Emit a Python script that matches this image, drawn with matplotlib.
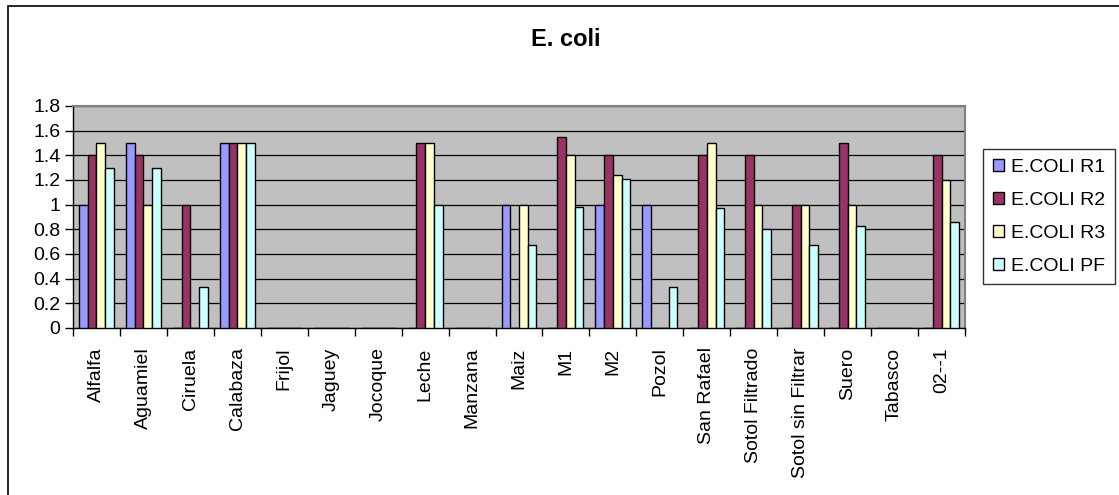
"""
E. coli bar chart per sample, four replicate series.
"""

import matplotlib
matplotlib.use("Agg")
import matplotlib.pyplot as plt
import matplotlib.patches as mpatches
import numpy as np

plt.rcParams['font.family'] = ['Liberation Sans', 'DejaVu Sans']

# Data
samples = ['Alfalfa', 'Aguamiel', 'Ciruela', 'Calabaza', 'Frijol', 'Jaguey',
           'Jocoque', 'Leche', 'Manzana', 'Maiz', 'M1', 'M2', 'Pozol',
           'San Rafael', 'Sotol Filtrado', 'Sotol sin Filtrar', 'Suero',
           'Tabasco', '02--1']
r1 = [1.0, 1.5, 0, 1.5, 0, 0, 0, 0, 0, 1.0, 0, 1.0, 1.0, 0, 0, 0, 0, 0, 0]
r2 = [1.4, 1.4, 1.0, 1.5, 0, 0, 0, 1.5, 0, 0, 1.55, 1.4, 0, 1.4, 1.4, 1.0, 1.5, 0, 1.4]
r3 = [1.5, 1.0, 0, 1.5, 0, 0, 0, 1.5, 0, 1.0, 1.4, 1.24, 0, 1.5, 1.0, 1.0, 1.0, 0, 1.2]
pf = [1.3, 1.3, 0.33, 1.5, 0, 0, 0, 1.0, 0, 0.67, 0.98, 1.21, 0.33, 0.97, 0.8, 0.67, 0.83, 0, 0.86]
series_names = ['E.COLI R1', 'E.COLI R2', 'E.COLI R3', 'E.COLI PF']
yticks = [0, 0.2, 0.4, 0.6, 0.8, 1, 1.2, 1.4, 1.6, 1.8]

colors = ['#9999FF', '#993366', '#FFFFCC', '#CCFFFF']

fig = plt.figure(figsize=(11.19, 4.95), dpi=100)
ax = fig.add_axes([73/1119, 1-328/495, (965-73)/1119, (328-106)/495])
ax.set_facecolor('#C0C0C0')

x = np.arange(len(samples))
width = 0.186
for i, (vals, name, c) in enumerate(zip([r1, r2, r3, pf], series_names, colors)):
    offs = (i - 1.5) * width
    ax.bar(x + offs, vals, width, color=c, edgecolor='black', linewidth=1.0,
           label=name, zorder=3)

# Axes and grid
ax.set_xlim(-0.5, len(samples) - 0.5)
ax.set_ylim(0, 1.8)
ax.set_yticks(yticks)
ax.set_yticklabels(['0', '0.2', '0.4', '0.6', '0.8', '1', '1.2', '1.4', '1.6', '1.8'])
ax.yaxis.grid(True, color='black', linewidth=0.9, zorder=1)
ax.set_axisbelow(True)

ax.set_xticks(x)
ax.set_xticklabels(samples, rotation=90, va='top', ha='center')
ax.set_xticks(np.arange(len(samples) + 1) - 0.5, minor=True)
ax.tick_params(axis='x', which='major', length=0, pad=14, labelsize=14)
ax.tick_params(axis='x', which='minor', length=6, width=1, direction='out')
ax.tick_params(axis='y', length=6, width=1, direction='out', labelsize=14, pad=3)

for side in ['top', 'right']:
    ax.spines[side].set_color('#808080')
    ax.spines[side].set_linewidth(1.5)
for side in ['left', 'bottom']:
    ax.spines[side].set_color('black')
    ax.spines[side].set_linewidth(1.0)

fig.text(566/1119, 1-39/495, 'E. coli', ha='center', va='center',
         fontsize=17, fontweight='bold')

# Legend
handles = [mpatches.Patch(facecolor=c, edgecolor='black', linewidth=1.0)
           for c in colors]
leg = fig.legend(handles, series_names, loc='upper left',
                 bbox_to_anchor=(983/1119, 1-149/495), fontsize=14,
                 frameon=True, fancybox=False, edgecolor='black',
                 handlelength=0.6, handleheight=0.6, handletextpad=0.35,
                 labelspacing=0.82, borderpad=0.5, borderaxespad=0)
leg.get_frame().set_linewidth(1.0)

# Chart border
fig.patches.append(mpatches.Rectangle((7.5/1119, -0.1), 1.2, 1.1 - 6.5/495,
                                      transform=fig.transFigure, fill=False,
                                      edgecolor='black', linewidth=1.2))

fig.savefig('out.png', dpi=100)
